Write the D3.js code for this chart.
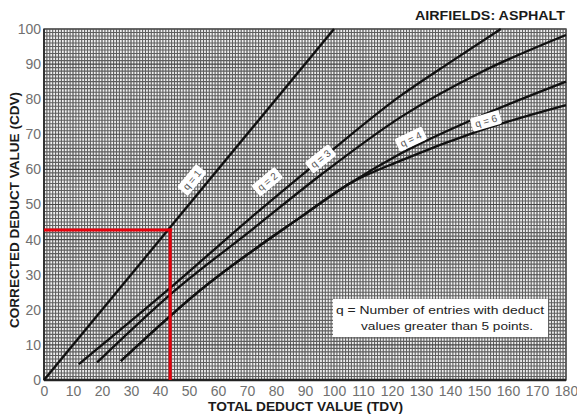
<!DOCTYPE html>
<html><head><meta charset="utf-8">
<script src="https://cdn.jsdelivr.net/npm/d3@7"></script>
<style>html,body{margin:0;padding:0;background:#fff;}</style>
</head><body>
<svg id="c" width="577" height="419"></svg>
<script>
// ---- data ----
const xTicks = d3.range(0, 181, 10);
const yTicks = d3.range(0, 101, 10);
const q1 = [[0,0],[100,100]];
const q2 = [[12,4.5],[42.5,25.5],[71,46],[95,62.5],[123,81],[140,90.5],[157.5,100]];
const q3 = [[18.3,5],[45.3,25.6],[71.2,42.5],[95.4,58.4],[123,74.9],[150.7,87.7],[180,98.3]];
const q4 = [[26.5,5.4],[53.9,25.6],[88.5,46.4],[105.7,56.1],[123,64.5],[150,75],[180,85]];
const q6 = [[26.5,5.4],[53.9,25.6],[88.5,46.4],[105.7,56.1],[123,62.5],[150,71],[180,78.3]];
const curveNames = ["q = 1","q = 2","q = 3","q = 4","q = 6"];
const labelAt = [[51,57],[77,56.5],[95.4,63],[126.5,68.6],[152.4,73.8]];
const readX = 43.5, readY = 42.7;
const legendLines = ["q = Number of entries with deduct","values greater than 5 points."];

const svg = d3.select("#c");
const x = d3.scaleLinear([0,180],[44,566]);
const y = d3.scaleLinear([0,100],[380,29]);

// grid
const g = svg.append("g");
g.append("rect").attr("x",x(0)).attr("y",y(100)).attr("width",x(180)-x(0)).attr("height",y(0)-y(100)).attr("fill","#f0f0f0");
g.selectAll(".vx").data(d3.range(0,181,1)).join("line")
  .attr("x1",d=>x(d)).attr("x2",d=>x(d)).attr("y1",y(0)).attr("y2",y(100))
  .attr("stroke",d=>d%10===0?"#444":"#5e5e5e").attr("stroke-width",1.1);
g.selectAll(".hy").data(d3.range(0,101,1)).join("line")
  .attr("y1",d=>y(d)).attr("y2",d=>y(d)).attr("x1",x(0)).attr("x2",x(180))
  .attr("stroke",d=>d%10===0?"#444":"#5e5e5e").attr("stroke-width",1.1);
// borders
svg.append("rect").attr("x",x(0)).attr("y",y(100)).attr("width",x(180)-x(0)).attr("height",y(0)-y(100))
  .attr("fill","none").attr("stroke","#555").attr("stroke-width",1.5);
svg.append("line").attr("x1",x(0)).attr("x2",x(180)).attr("y1",y(0)).attr("y2",y(0)).attr("stroke","#222").attr("stroke-width",2.5);
svg.append("line").attr("x1",x(0)).attr("x2",x(0)).attr("y1",y(0)).attr("y2",y(100)).attr("stroke","#333").attr("stroke-width",2);

// axes tick labels
const xa = svg.append("g").attr("transform",`translate(0,${y(0)})`)
  .call(d3.axisBottom(x).tickValues(xTicks).tickSize(0).tickPadding(6));
const ya = svg.append("g").attr("transform",`translate(${x(0)},0)`)
  .call(d3.axisLeft(y).tickValues(yTicks).tickSize(0).tickPadding(3));
[xa,ya].forEach(a=>{a.select(".domain").remove();
  a.selectAll("text").attr("font-family","Liberation Sans, Arial, sans-serif").attr("font-size",14).attr("fill","#707070");});

// curves
const line = d3.line().x(d=>x(d[0])).y(d=>y(d[1])).curve(d3.curveMonotoneX);
const curves = [q1,q2,q3,q4,q6];
svg.append("g").selectAll("path").data(curves).join("path")
  .attr("d",line).attr("fill","none").attr("stroke","#111").attr("stroke-width",2.3);

// curve labels
function slopeAt(c, t){
  for(let i=0;i<c.length-1;i++){ if(t>=c[i][0] && t<=c[i+1][0]){
    const dx=x(c[i+1][0])-x(c[i][0]), dy=y(c[i+1][1])-y(c[i][1]); return Math.atan2(dy,dx)*180/Math.PI; } }
  const n=c.length-1; return Math.atan2(y(c[n][1])-y(c[n-1][1]), x(c[n][0])-x(c[n-1][0]))*180/Math.PI;
}
const lab = svg.append("g").selectAll("g").data(curveNames).join("g")
  .attr("transform",(d,i)=>`translate(${x(labelAt[i][0])},${y(labelAt[i][1])}) rotate(${slopeAt(curves[i],labelAt[i][0])})`);
lab.append("rect").attr("x",-15).attr("y",-7).attr("width",30).attr("height",14).attr("rx",2).attr("fill","#fff");
lab.append("text").text(d=>d).attr("text-anchor","middle").attr("dy","0.35em")
  .attr("font-family","Liberation Sans, Arial, sans-serif").attr("font-size",10).attr("fill","#555");

// red reading lines
svg.append("path").attr("d",`M${x(0)},${y(readY)}H${x(readX)+2}`)
  .attr("fill","none").attr("stroke","#e8000b").attr("stroke-width",3);
svg.append("path").attr("d",`M${x(readX)},${y(readY)-1.5}V${y(0)}`)
  .attr("fill","none").attr("stroke","#e8000b").attr("stroke-width",3);

// legend
svg.append("rect").attr("x",333).attr("y",299).attr("width",215).attr("height",38).attr("fill","#fff");
svg.append("text").attr("x",336).attr("y",314).text(legendLines[0])
  .attr("font-family","Liberation Sans, Arial, sans-serif").attr("font-size",11.5).attr("fill","#222")
  .attr("textLength",208).attr("lengthAdjust","spacingAndGlyphs");
svg.append("text").attr("x",361).attr("y",330).text(legendLines[1])
  .attr("font-family","Liberation Sans, Arial, sans-serif").attr("font-size",11.5).attr("fill","#222")
  .attr("textLength",172).attr("lengthAdjust","spacingAndGlyphs");

// titles
const bold = "Liberation Sans, Arial, sans-serif";
svg.append("text").attr("x",565).attr("y",20).attr("text-anchor","end").text("AIRFIELDS: ASPHALT")
  .attr("font-family",bold).attr("font-weight","bold").attr("font-size",13.5).attr("fill","#1a1a1a")
  .attr("textLength",150).attr("lengthAdjust","spacingAndGlyphs");
svg.append("text").attr("x",208).attr("y",411).text("TOTAL DEDUCT VALUE (TDV)")
  .attr("font-family",bold).attr("font-weight","bold").attr("font-size",13.5).attr("fill","#1a1a1a")
  .attr("textLength",195).attr("lengthAdjust","spacingAndGlyphs");
svg.append("text").attr("transform","translate(19,328) rotate(-90)").text("CORRECTED DEDUCT VALUE (CDV)")
  .attr("font-family",bold).attr("font-weight","bold").attr("font-size",13.5).attr("fill","#1a1a1a")
  .attr("textLength",236).attr("lengthAdjust","spacingAndGlyphs");
</script>
</body></html>
